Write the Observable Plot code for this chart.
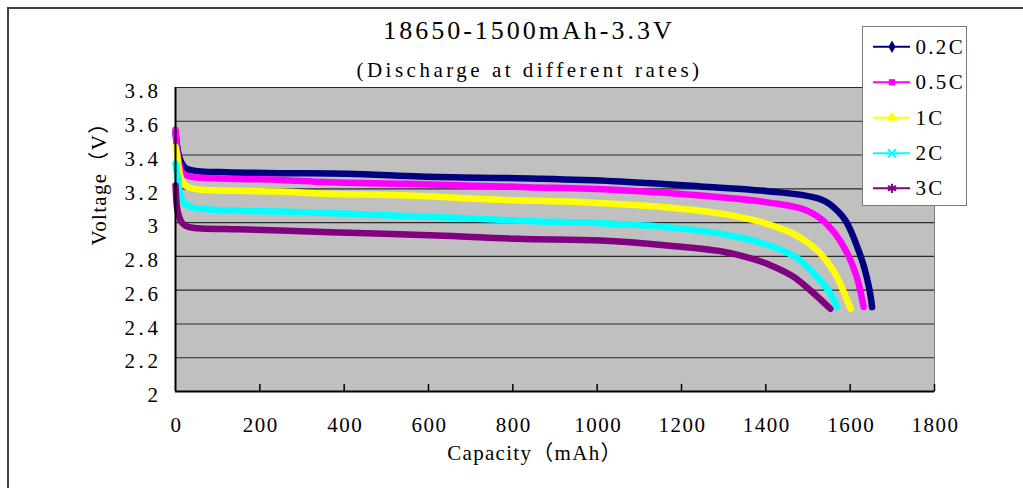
<!DOCTYPE html>
<html><head><meta charset="utf-8">
<script src="https://cdn.jsdelivr.net/npm/d3@7"></script>
<script src="https://cdn.jsdelivr.net/npm/@observablehq/plot@0.6"></script>
<style>
html,body{margin:0;padding:0;background:#fff;overflow:hidden;width:1023px;height:488px}
#wrap{position:relative;width:1023px;height:488px;font-family:"Liberation Serif","Noto Sans CJK SC",serif;color:#000}
#frame{position:absolute;left:7px;top:7px;width:1100px;height:600px;border:2px solid #404040;box-sizing:border-box}
#chart{position:absolute;left:0;top:0}
.ttl{position:absolute;left:0;width:1052px;text-align:center;white-space:nowrap;line-height:1}
#legend{position:absolute;left:862px;top:26px;width:105px;height:180px;background:#fff;border:1.5px solid #7a7a7a;box-sizing:border-box}
#legend svg{position:absolute;left:-1.5px;top:-1.5px;overflow:visible}
</style></head>
<body><div id="wrap"><div id="frame"></div><div id="chart"></div>
<div class="ttl" style="top:18px;font-size:26px;letter-spacing:3px;padding-left:3px">18650-1500mAh-3.3V</div>
<div class="ttl" style="top:60px;font-size:21px;letter-spacing:3.5px;padding-left:3.5px">(Discharge at different rates)</div>
<div id="legend"></div>
</div>
<script>
const seriesNames = ["0.2C","0.5C","1C","2C","3C"];
const cap02 = [0,4,10,18,30,60,120,249,407,581,858,1039,1245,1404,1522,1561,1593,1617,1637,1650,1652];
const volt02 = [3.53,3.45,3.38,3.34,3.315,3.303,3.298,3.293,3.289,3.273,3.26,3.245,3.214,3.186,3.145,3.09,2.995,2.855,2.70,2.54,2.50];
const cap05 = [0,3,8,15,30,60,150,249,351,541,835,1039,1245,1404,1498,1545,1577,1601,1620,1632];
const volt05 = [3.55,3.45,3.36,3.30,3.275,3.265,3.258,3.253,3.24,3.23,3.21,3.195,3.16,3.12,3.07,2.99,2.89,2.776,2.64,2.50];
const cap1 = [0,4,8,15,30,60,150,249,327,550,771,968,1166,1324,1419,1482,1530,1569,1593,1601];
const volt1 = [3.45,3.40,3.32,3.25,3.21,3.195,3.188,3.184,3.174,3.16,3.135,3.12,3.09,3.04,2.98,2.91,2.815,2.677,2.54,2.49];
const cap2 = [0,4,10,20,40,80,150,249,431,645,835,1008,1166,1324,1419,1482,1522,1553,1569];
const volt2 = [3.35,3.28,3.18,3.12,3.09,3.078,3.07,3.066,3.05,3.03,3.01,2.996,2.973,2.92,2.855,2.776,2.677,2.58,2.50];
const cap3 = [0,3,8,15,30,60,150,249,368,621,810,1008,1166,1324,1403,1467,1514,1553];
const volt3 = [3.22,3.10,3.04,3.00,2.975,2.965,2.96,2.953,2.943,2.924,2.904,2.894,2.864,2.815,2.756,2.677,2.58,2.49];
const xTickVals = [0,200,400,600,800,1000,1200,1400,1600,1800];
const xTickLabels = ["0","200","400","600","800","1000","1200","1400","1600","1800"];
const yTickVals = [2,2.2,2.4,2.6,2.8,3,3.2,3.4,3.6,3.8];
const yTickLabels = ["2","2.2","2.4","2.6","2.8","3","3.2","3.4","3.6","3.8"];
const titleX = "Capacity（mAh）";
const titleY = "Voltage（V）";

const colors = ["#000080","#ff00ff","#ffff00","#00ffff","#800080"];
const caps = [cap02,cap05,cap1,cap2,cap3];
const volts = [volt02,volt05,volt1,volt2,volt3];
const tables = caps.map((c,i)=>c.map((x,j)=>({x, y: volts[i][j], s: seriesNames[i]})));

const font = "'Liberation Serif','Noto Sans CJK SC',serif";
const chart = Plot.plot({
  width:1023, height:488,
  marginLeft:175, marginRight:89, marginTop:87, marginBottom:97,
  x:{domain:[0,1800], axis:null},
  y:{domain:[2,3.8], axis:null},
  style:{fontFamily:font, fontSize:"21px", background:"transparent", overflow:"visible", color:"#000"},
  marks:[
    Plot.frame({fill:"#c0c0c0", stroke:"#808080"}),
    Plot.ruleY(yTickVals.slice(1), {stroke:"#2a2a2a", strokeWidth:1.1}),
    ...tables.map((t,i)=>Plot.line(t,{x:"x", y:"y", stroke:colors[i], strokeWidth:6.5, strokeLinecap:"round", strokeLinejoin:"round", curve:"monotone-x"})),
    Plot.ruleX([0],{stroke:"#000",strokeWidth:2}),
    Plot.ruleY([2],{stroke:"#000",strokeWidth:2}),
    Plot.ruleX(xTickVals.slice(1),{y1:2, y2:2.042, stroke:"#000", strokeWidth:1.5}),
    Plot.text(yTickVals,{y:d=>d, text:(d,i)=>yTickLabels[i], frameAnchor:"left", textAnchor:"end", lineAnchor:"middle", dx:-14, dy:4, fontSize:21, fill:"#000"}),
    Plot.text(xTickVals,{x:d=>d, text:(d,i)=>xTickLabels[i], frameAnchor:"bottom", textAnchor:"middle", lineAnchor:"middle", dx:1, dy:34, fontSize:21, fill:"#000"}),
    Plot.text([titleX],{text:d=>d, frameAnchor:"bottom", lineAnchor:"middle", dx:-20, dy:62, fontSize:21, fill:"#000"}),
    Plot.text([titleY],{text:d=>d, frameAnchor:"left", lineAnchor:"middle", rotate:-90, dx:-76, dy:6, fontSize:21, fill:"#000"})
  ]
});
const spacing = ["3.6px","1.5px","1.3px","1.3px"];
d3.select(chart).selectAll('g[aria-label="text"]').each(function(d,i){ d3.select(this).style("letter-spacing", spacing[i]); });
document.getElementById("chart").appendChild(chart);

// legend
const lg = d3.select("#legend").append("svg").attr("width",105).attr("height",180);
const rowY = [20.7, 56.3, 91.7, 127.3, 162.3];
const sym = [d3.symbolDiamond, d3.symbolSquare, d3.symbolTriangle, d3.symbolTimes, d3.symbolAsterisk];
const symSize = [45, 40, 50, 45, 60];
seriesNames.forEach((name,i)=>{
  const g = lg.append("g").attr("transform",`translate(0,${rowY[i]})`);
  g.append("line").attr("x1",11).attr("x2",48).attr("y1",0).attr("y2",0).attr("stroke",colors[i]).attr("stroke-width",2);
  const p = g.append("path").attr("transform","translate(30,0)").attr("d", d3.symbol(sym[i], symSize[i])());
  if (i>=3) p.attr("fill","none").attr("stroke",colors[i]).attr("stroke-width",2);
  else p.attr("fill",colors[i]);
  g.append("text").attr("x",53.5).attr("y",0).attr("dy","0.34em").attr("font-family",font).attr("font-size",21).style("letter-spacing","2.3px").attr("fill","#000").text(name);
});
</script>
</body></html>
